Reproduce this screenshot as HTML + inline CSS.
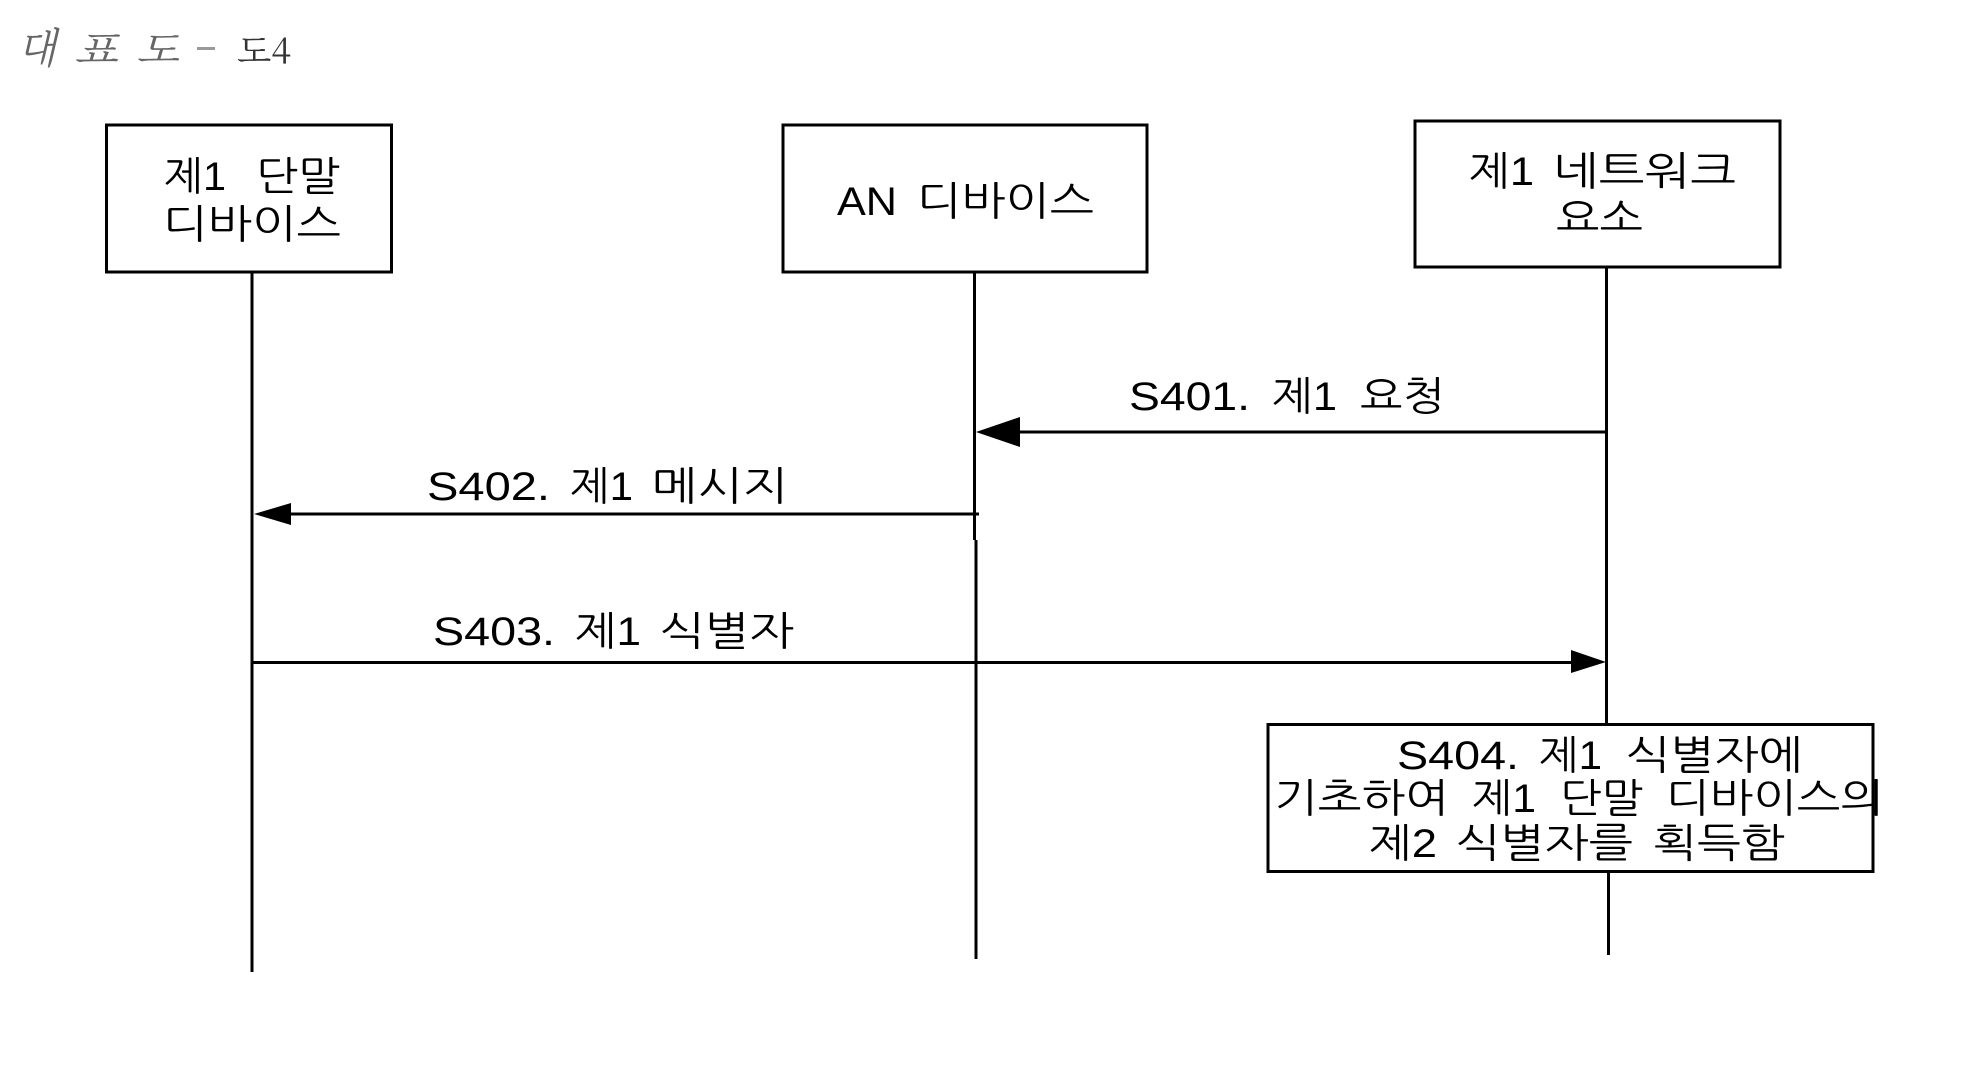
<!DOCTYPE html>
<html lang="ko"><head><meta charset="utf-8"><title>대표도 - 도4</title>
<style>
html,body{margin:0;padding:0;background:#fff}
svg{display:block}
text{font-family:"Liberation Sans","NanumGothic","Noto Sans CJK KR",sans-serif;font-size:40px;fill:#000;stroke:none}
</style></head><body>
<svg width="1985" height="1087" viewBox="0 0 1985 1087" xmlns="http://www.w3.org/2000/svg">
<rect width="1985" height="1087" fill="#fff"/>
<!-- title -->
<text x="18" y="63" textLength="38" lengthAdjust="spacingAndGlyphs" font-style="italic" style="font-family:'Noto Serif CJK SC',serif;fill:#666;font-size:42px">대</text>
<text x="74" y="63" textLength="44" lengthAdjust="spacingAndGlyphs" font-style="italic" style="font-family:'Noto Serif CJK SC',serif;fill:#666;font-size:38px">표</text>
<text x="136" y="63" textLength="43" lengthAdjust="spacingAndGlyphs" font-style="italic" style="font-family:'Noto Serif CJK SC',serif;fill:#666;font-size:38px">도</text>
<rect x="197" y="47" width="18" height="3" fill="#999"/>
<text x="237" y="63" textLength="54" lengthAdjust="spacingAndGlyphs" style="font-family:'Noto Serif CJK SC',serif;fill:#333;font-size:34px">도4</text>
<!-- lifelines -->
<g stroke="#000" stroke-width="3" fill="none">
<line x1="252" y1="273" x2="252" y2="972"/>
<line x1="974.5" y1="272" x2="974.5" y2="540"/>
<line x1="976" y1="540" x2="976" y2="959"/>
<line x1="1606.5" y1="267" x2="1606.5" y2="723"/>
<line x1="1608.5" y1="873" x2="1608.5" y2="955"/>
</g>
<!-- boxes -->
<g stroke="#000" stroke-width="3" fill="#fff">
<rect x="106.5" y="125" width="285" height="147"/>
<rect x="783" y="125" width="364" height="147"/>
<rect x="1415" y="121" width="365" height="146"/>
<rect x="1268" y="724.5" width="605" height="147"/>
</g>
<!-- arrows -->
<g stroke="#000" stroke-width="3" fill="none">
<line x1="1608" y1="432" x2="1015" y2="432"/>
<line x1="979" y1="514" x2="285" y2="514"/>
<line x1="252" y1="662.5" x2="1575" y2="662.5"/>
</g>
<g fill="#000">
<polygon points="976,432 1020,417 1020,447"/>
<polygon points="254,514 291,503 291,525"/>
<polygon points="1606,662 1571,650 1571,673"/>
</g>
<!-- labels -->
<text x="164" y="190" textLength="62" lengthAdjust="spacingAndGlyphs">제1</text>
<text x="256" y="190" textLength="84" lengthAdjust="spacingAndGlyphs">단말</text>
<text x="163" y="238" textLength="178" lengthAdjust="spacingAndGlyphs">디바이스</text>
<text x="837" y="215" textLength="60" lengthAdjust="spacingAndGlyphs">AN</text>
<text x="917" y="215" textLength="177" lengthAdjust="spacingAndGlyphs">디바이스</text>
<text x="1469" y="185" textLength="65" lengthAdjust="spacingAndGlyphs">제1</text>
<text x="1553" y="185" textLength="183" lengthAdjust="spacingAndGlyphs">네트워크</text>
<text x="1556" y="232" textLength="87" lengthAdjust="spacingAndGlyphs">요소</text>

<text x="1129" y="410" textLength="121" lengthAdjust="spacingAndGlyphs">S401.</text>
<text x="1272" y="410" textLength="65" lengthAdjust="spacingAndGlyphs">제1</text>
<text x="1360" y="410" textLength="85" lengthAdjust="spacingAndGlyphs">요청</text>

<text x="427" y="500" textLength="123" lengthAdjust="spacingAndGlyphs">S402.</text>
<text x="570" y="500" textLength="63" lengthAdjust="spacingAndGlyphs">제1</text>
<text x="652" y="500" textLength="136" lengthAdjust="spacingAndGlyphs">메시지</text>

<text x="433" y="645" textLength="122" lengthAdjust="spacingAndGlyphs">S403.</text>
<text x="575" y="645" textLength="66" lengthAdjust="spacingAndGlyphs">제1</text>
<text x="660" y="645" textLength="134" lengthAdjust="spacingAndGlyphs">식별자</text>

<text x="1397" y="769" textLength="122" lengthAdjust="spacingAndGlyphs">S404.</text>
<text x="1539" y="769" textLength="63" lengthAdjust="spacingAndGlyphs">제1</text>
<text x="1626" y="769" textLength="177" lengthAdjust="spacingAndGlyphs">식별자에</text>

<text x="1274" y="812" textLength="175" lengthAdjust="spacingAndGlyphs">기초하여</text>
<text x="1472" y="812" textLength="64" lengthAdjust="spacingAndGlyphs">제1</text>
<text x="1560" y="812" textLength="83" lengthAdjust="spacingAndGlyphs">단말</text>
<text x="1666" y="812" textLength="218" lengthAdjust="spacingAndGlyphs">디바이스의</text>

<text x="1369" y="857" textLength="68" lengthAdjust="spacingAndGlyphs">제2</text>
<text x="1456" y="857" textLength="177" lengthAdjust="spacingAndGlyphs">식별자를</text>
<text x="1653" y="857" textLength="132" lengthAdjust="spacingAndGlyphs">획득함</text>
</svg>
</body></html>
